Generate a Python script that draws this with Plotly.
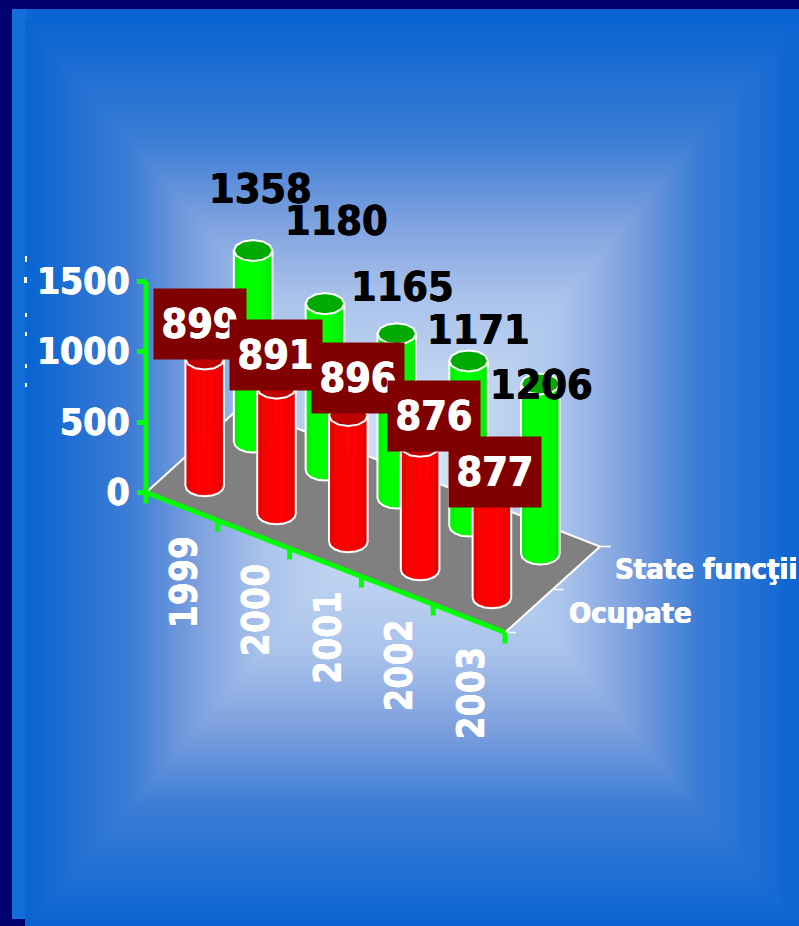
import numpy as np
import plotly.graph_objects as go

# ---------- data ----------
years = ["1999", "2000", "2001", "2002", "2003"]
ocupate = [899, 891, 896, 876, 877]
state_functii = [1358, 1180, 1165, 1171, 1206]
value_ticks = [0, 500, 1000, 1500]
series_names = ["Ocupate", "State funcţii"]

# label offsets from the top of each bar, in pixels (hand-placed in the source)
ocupate_label_shift = [(-5, -35), (-1, -33), (10, -38), (14, -30), (3, -2)]
state_label_shift = [(7, -62), (12, -83), (6, -47), (10, -31), (1, 1)]

# ---------- geometry ----------
W, H = 799, 926
X0, Y0 = 146.0, 492.5
PX_PER_CAT = 71.8
PX_PER_VAL = 211.5 / 1500
CAT_DROP = 28.0       # px down per category
DEPTH_DX, DEPTH_DY = 95.0, 86.0   # floor depth vector in px
RX, RY = 19.3, 10.5
FONT = "DejaVu Sans Condensed, DejaVu Sans"
SH_W = "0.5px 0 0 white,-0.5px 0 0 white"
SH_K = "0.5px 0 0 black,-0.5px 0 0 black"


def project(t, depth, value=0.0):
    """Oblique projection onto the chart axes (category units, value units)."""
    t = np.asarray(t, float)
    depth = np.asarray(depth, float)
    value = np.asarray(value, float)
    return (t + depth * DEPTH_DX / PX_PER_CAT,
            value + (-t * CAT_DROP + depth * DEPTH_DY) / PX_PER_VAL)


fig = go.Figure()

# ---------- background ----------
gx = np.linspace(27, W, 194)
gy = np.linspace(21, H, 227)
u = np.abs(gx - (27 + W) / 2) / ((W - 27) / 2)
v = np.abs(gy - (21 + H) / 2) / ((H - 21) / 2)
z = 1 - np.maximum(u[None, :], v[:, None])
ramp = [[0, "rgb(10,100,210)"], [0.265, "rgb(60,125,213)"], [0.44, "rgb(125,160,222)"],
        [0.61, "rgb(170,195,235)"], [1, "rgb(215,232,248)"]]
fig.add_trace(go.Heatmap(x=gx, y=gy, z=np.round(z, 3), zmin=0, zmax=1, colorscale=ramp,
                         zsmooth="best", showscale=False, hoverinfo="skip",
                         xaxis="x", yaxis="y"))


def add(xs, ys, **kw):
    fig.add_trace(go.Scatter(x=xs, y=ys, xaxis="x2", yaxis="y2", hoverinfo="skip",
                             showlegend=False, **kw))


# ---------- floor ----------
fx, fy = project([0, 5, 5, 0, 0], [0, 0, 1, 1, 0])
add(fx, fy, mode="lines", fill="toself", fillcolor="rgb(128,128,128)",
    line=dict(color="rgba(0,0,0,0)", width=0))
ex, ey = project([0, 0, 5, 5], [0, 1, 1, 0])
add(ex, ey, mode="lines", line=dict(color="white", width=2))
# depth ticks on the right edge
for d in (0, 0.5, 1):
    a, b = project(5, d)
    add([a, a + 11 / PX_PER_CAT], [b, b], mode="lines", line=dict(color="white", width=1.5))


# ---------- cylinders ----------
def cylinder(i, depth, value, side, top):
    cx, cy = project(i + 0.5, depth)
    cy = float(cy)
    rx = RX / PX_PER_CAT
    ry = RY / PX_PER_VAL
    n = 8
    angs = np.linspace(np.pi, 2 * np.pi, n + 1)  # front half, left to right
    for k in range(n):
        a = angs[k:k + 2]
        xs = cx + rx * np.cos(a)
        yb = cy + ry * np.sin(a)
        add(list(xs) + list(xs[::-1]) + [xs[0]],
            list(yb) + list((yb + value)[::-1]) + [yb[0]],
            mode="lines", fill="toself", fillcolor=side[k], line=dict(color=side[k], width=0.5))
    # white silhouette
    xs = cx + rx * np.cos(angs)
    yb = cy + ry * np.sin(angs)
    add(list(xs) + [xs[-1], xs[0], xs[0]],
        list(yb) + [yb[-1] + value, yb[0] + value, yb[0]],
        mode="lines", line=dict(color="white", width=2))
    # top cap
    full = np.linspace(0, 2 * np.pi, 13)
    add(cx + rx * np.cos(full), cy + value + ry * np.sin(full), mode="lines", fill="toself",
        fillcolor=top, line=dict(color="white", width=2))


green_side = [f"rgb(0,{g},0)" for g in (238, 245, 255, 255, 255, 248, 240, 232)]
red_side = [f"rgb({r},0,0)" for r in (226, 238, 250, 255, 255, 248, 236, 226)]
for i, val in enumerate(state_functii):
    cylinder(i, 0.75, val, green_side, "rgb(0,170,0)")
for i, val in enumerate(ocupate):
    cylinder(i, 0.24, val, red_side, "rgb(190,0,0)")

# ---------- axes drawn as lines ----------
GREEN = "rgb(0,255,0)"
ax, ay = project([0, 5], [0, 0])
add(ax, ay, mode="lines", line=dict(color=GREEN, width=5))
for t in range(6):
    a, b = project(t, 0)
    add([a, a], [b, b - 11 / PX_PER_VAL], mode="lines", line=dict(color=GREEN, width=5))
add([0, 0], [value_ticks[0], value_ticks[-1]], mode="lines", line=dict(color=GREEN, width=5))

# ---------- annotations ----------
ann = []
for i, name in enumerate(years):
    a, b = project(i + 0.5, 0)
    ann.append(dict(x=float(a), y=float(b), xref="x2", yref="y2", text=name, textangle=-90,
                    showarrow=False, xshift=2, yshift=-75,
                    font=dict(family=FONT, size=37, color="white", weight=700,
                              shadow="0 0.5px 0 white,0 -0.5px 0 white")))
for j, (name, d, dx, dy) in enumerate([(series_names[0], 0.24, 103, -1), (series_names[1], 0.75, 130, -1)]):
    a, b = project(5, d)
    ann.append(dict(x=float(a), y=float(b), xref="x2", yref="y2", text=name, showarrow=False,
                    xshift=dx, yshift=dy,
                    font=dict(family=FONT, size=29, color="white", weight=700, shadow=SH_W)))
for i, val in enumerate(state_functii):
    a, b = project(i + 0.5, 0.75, val)
    sx, sy = state_label_shift[i]
    ann.append(dict(x=float(a), y=float(b), xref="x2", yref="y2", text=str(val), showarrow=False,
                    xshift=sx, yshift=-sy,
                    font=dict(family=FONT, size=41, color="black", weight=700, shadow=SH_K)))
for i, val in enumerate(ocupate):
    a, b = project(i + 0.5, 0.24, val)
    sx, sy = ocupate_label_shift[i]
    ann.append(dict(x=float(a), y=float(b), xref="x2", yref="y2", text=str(val), showarrow=False,
                    xshift=sx, yshift=-sy, width=92, height=70, borderpad=0, bgcolor="rgb(128,0,0)",
                    align="center", valign="middle",
                    font=dict(family=FONT, size=41, color="white", weight=700, shadow=SH_W)))

# ---------- frame + stray marks at the left ----------
shapes = [dict(type="rect", xref="x", yref="y", x0=12, x1=W, y0=9, y1=21, layer="below",
               fillcolor="rgb(10,100,210)", line_width=0),
          dict(type="rect", xref="x", yref="y", x0=12, x1=27, y0=9, y1=919, layer="below",
               fillcolor="rgb(20,110,218)", line_width=0)]
for y0, y1, x0 in [(256, 262, 25), (277, 283, 24), (313, 317, 25), (332, 336, 25), (364, 368, 25), (383, 387, 25)]:
    shapes.append(dict(type="rect", xref="x", yref="y", x0=x0, x1=27, y0=y0, y1=y1,
                       fillcolor="white", line_width=0, layer="above"))

fig.update_layout(
    width=W, height=H, margin=dict(l=0, r=0, t=0, b=0), autosize=False,
    paper_bgcolor="rgb(0,0,110)", plot_bgcolor="rgb(0,0,110)", showlegend=False,
    annotations=ann, shapes=shapes,
    xaxis=dict(range=[0, W], visible=False, domain=[0, 1]),
    yaxis=dict(range=[H, 0], visible=False, domain=[0, 1]),
    xaxis2=dict(range=[-X0 / PX_PER_CAT, (W - X0) / PX_PER_CAT], overlaying="x", visible=False),
    yaxis2=dict(range=[(Y0 - H) / PX_PER_VAL, Y0 / PX_PER_VAL], overlaying="y", anchor="free",
                position=X0 / W, side="left", tickvals=value_ticks, ticks="outside", ticklen=9,
                tickwidth=5, tickcolor=GREEN, showgrid=False, zeroline=False, showline=False,
                tickfont=dict(family=FONT, size=37, color="white", weight=700, shadow=SH_W)),
)
fig.write_html("out.html", config={"displayModeBar": False},
               post_script="document.body.style.margin='0';document.documentElement.style.overflow='hidden';")
